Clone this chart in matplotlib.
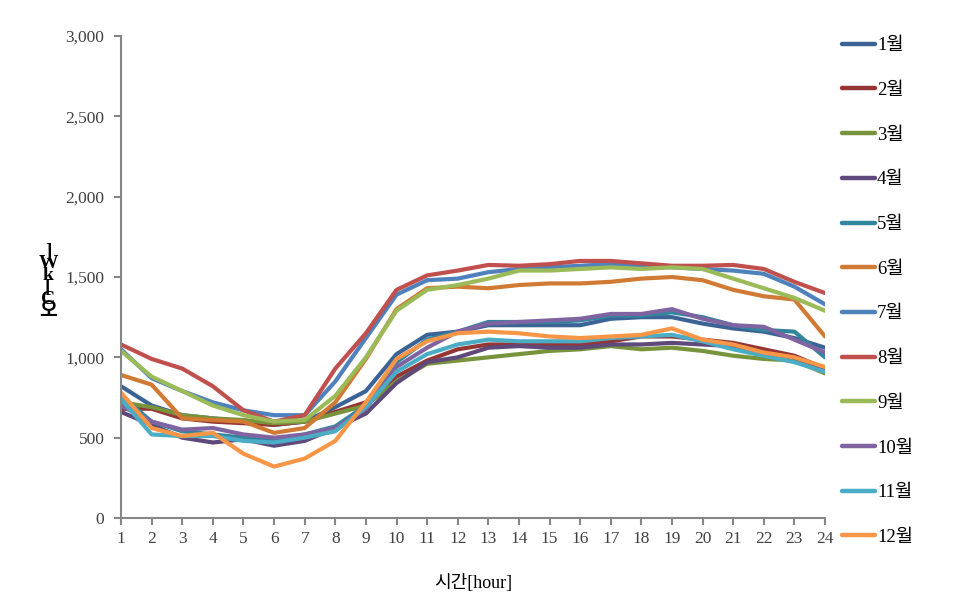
import matplotlib
matplotlib.use("Agg")
import matplotlib.pyplot as plt

plt.rcParams['font.family'] = ['Liberation Serif', 'Noto Sans CJK KR']

hours = list(range(1, 25))
months = ["1월", "2월", "3월", "4월", "5월", "6월", "7월", "8월", "9월", "10월", "11월", "12월"]
colors = ["#3B6396", "#943634", "#77933C", "#5F497A", "#31859C", "#D17A34",
          "#4F81BD", "#C0504D", "#9BBB59", "#8064A2", "#4BACC6", "#F79646"]

m1 = [820, 700, 640, 620, 600, 580, 600, 690, 790, 1020, 1140, 1160, 1200, 1200, 1200, 1200, 1240, 1250, 1250, 1210, 1180, 1160, 1120, 1060]
m2 = [680, 680, 620, 600, 590, 580, 600, 660, 720, 880, 980, 1050, 1080, 1080, 1080, 1080, 1100, 1130, 1130, 1110, 1090, 1050, 1010, 930]
m3 = [720, 690, 640, 620, 610, 590, 600, 650, 700, 850, 960, 980, 1000, 1020, 1040, 1050, 1070, 1050, 1060, 1040, 1010, 990, 980, 900]
m4 = [660, 580, 500, 470, 490, 450, 480, 560, 650, 840, 970, 1000, 1060, 1070, 1060, 1060, 1080, 1080, 1090, 1080, 1070, 1020, 1000, 920]
m5 = [760, 600, 540, 520, 500, 490, 520, 570, 700, 970, 1110, 1160, 1220, 1220, 1220, 1230, 1260, 1260, 1280, 1250, 1200, 1170, 1160, 1000]
m6 = [890, 830, 620, 610, 600, 530, 560, 720, 990, 1300, 1430, 1440, 1430, 1450, 1460, 1460, 1470, 1490, 1500, 1480, 1420, 1380, 1360, 1130]
m7 = [1050, 870, 790, 720, 670, 640, 640, 850, 1120, 1390, 1480, 1490, 1530, 1550, 1560, 1570, 1580, 1570, 1560, 1550, 1540, 1520, 1440, 1330]
m8 = [1080, 990, 930, 820, 670, 600, 640, 930, 1150, 1420, 1510, 1540, 1575, 1570, 1580, 1600, 1600, 1585, 1570, 1570, 1575, 1550, 1470, 1400]
m9 = [1040, 880, 790, 700, 640, 600, 610, 760, 1000, 1290, 1420, 1450, 1490, 1540, 1540, 1550, 1560, 1550, 1560, 1550, 1490, 1430, 1370, 1290]
m10 = [700, 600, 550, 560, 520, 500, 520, 560, 680, 940, 1060, 1160, 1210, 1220, 1230, 1240, 1270, 1270, 1300, 1240, 1200, 1190, 1110, 1030]
m11 = [740, 520, 510, 510, 480, 470, 500, 540, 690, 910, 1020, 1080, 1110, 1100, 1100, 1100, 1120, 1130, 1140, 1100, 1050, 1010, 970, 910]
m12 = [780, 560, 510, 530, 400, 320, 370, 480, 720, 990, 1100, 1150, 1160, 1150, 1130, 1120, 1130, 1140, 1180, 1110, 1080, 1030, 1000, 940]

series = [m1, m2, m3, m4, m5, m6, m7, m8, m9, m10, m11, m12]

fig = plt.figure(figsize=(9.63, 6.06), dpi=100)
ax = fig.add_axes([0.1257, 0.1452, 0.731, 0.7954])

for name, vals, c in zip(months, series, colors):
    ax.plot(hours, vals, color=c, linewidth=3.0, label=name, solid_capstyle='round')

ax.set_xlim(1, 24)
ax.set_ylim(0, 3000)
ax.set_xticks(hours)
ax.set_yticks(range(0, 3001, 500))
ax.set_yticklabels(["{:,}".format(v) for v in range(0, 3001, 500)])

for s in ["top", "right"]:
    ax.spines[s].set_visible(False)
for s in ["left", "bottom"]:
    ax.spines[s].set_color("#868686")
    ax.spines[s].set_linewidth(1.5)
ax.tick_params(direction="out", length=5, width=1.5, color="#868686",
               labelsize=12.5, labelcolor="#404040")
ax.tick_params(axis="y", pad=7)
ax.tick_params(axis="x", pad=4)

ax.set_xlabel("시간[hour]", fontsize=13, labelpad=20)

# stacked y label, as in the original
fig.text(0.05, 0.535, "]\nW\nk\n[\nC\n오", fontsize=14, ha="center", va="center",
         linespacing=0.62, fontweight="bold")

leg = fig.legend(loc="upper left", bbox_to_anchor=(0.867, 0.951), frameon=False,
                 fontsize=13.5, handlelength=1.75, handletextpad=0.1,
                 labelspacing=1.47, borderaxespad=0)
for h in leg.get_lines():
    h.set_linewidth(3.2)

fig.savefig("out.png", dpi=100)
